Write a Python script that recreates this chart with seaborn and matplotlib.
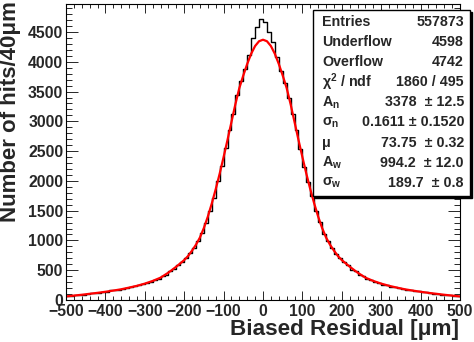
import numpy as np
import pandas as pd
import matplotlib
matplotlib.use("Agg")
import matplotlib.pyplot as plt
import seaborn as sns
from matplotlib.patches import Rectangle
from matplotlib.ticker import MultipleLocator

# ---- data ----
bin_centers = [-495, -485, -475, -465, -455, -445, -435, -425, -415, -405,
               -395, -385, -375, -365, -355, -345, -335, -325, -315, -305,
               -295, -285, -275, -265, -255, -245, -235, -225, -215, -205,
               -195, -185, -175, -165, -155, -145, -135, -125, -115, -105,
               -95, -85, -75, -65, -55, -45, -35, -25, -15, -5,
               5, 15, 25, 35, 45, 55, 65, 75, 85, 95,
               105, 115, 125, 135, 145, 155, 165, 175, 185, 195,
               205, 215, 225, 235, 245, 255, 265, 275, 285, 295,
               305, 315, 325, 335, 345, 355, 365, 375, 385, 395,
               405, 415, 425, 435, 445, 455, 465, 475, 485, 495]
bin_counts = [62, 60, 80, 78, 92, 95, 110, 112, 125, 140,
              138, 160, 168, 175, 190, 205, 215, 230, 250, 262,
              290, 300, 335, 352, 400, 420, 480, 520, 590, 640,
              700, 790, 880, 990, 1120, 1300, 1500, 1720, 1990, 2250,
              2560, 2850, 3130, 3440, 3680, 3880, 4120, 4400, 4580, 4720,
              4660, 4500, 4330, 4080, 3850, 3640, 3400, 3120, 2860, 2530,
              2240, 1980, 1740, 1490, 1310, 1110, 990, 870, 780, 710,
              630, 590, 510, 485, 415, 400, 348, 340, 298, 290,
              260, 250, 225, 222, 200, 192, 172, 165, 150, 148,
              130, 128, 112, 108, 98, 92, 80, 78, 65, 70]

fit_x = [-500, -480, -460, -440, -420, -400, -380, -360, -340, -320, -300,
         -280, -260, -240, -220, -200, -190, -180, -170, -160, -150, -140,
         -130, -120, -110, -100, -90, -80, -70, -60, -50, -40, -30, -20, -10,
         0, 10, 20, 30, 40, 50, 60, 70, 80, 90, 100, 110, 120, 130, 140, 150,
         160, 170, 180, 190, 200, 220, 240, 260, 280, 300, 320, 340, 360, 380,
         400, 420, 440, 460, 480, 500]
fit_y = [60, 74, 88, 104, 120, 138, 158, 180, 208, 238, 275,
         320, 375, 460, 560, 670, 740, 830, 930, 1050, 1210, 1400,
         1620, 1860, 2120, 2400, 2690, 2990, 3290, 3560, 3770, 3965, 4135, 4265, 4345,
         4370, 4345, 4265, 4135, 3965, 3770, 3560, 3290, 2990, 2690, 2400, 2120, 1860, 1620, 1400, 1210,
         1050, 930, 830, 740, 670, 560, 460, 375, 320, 275, 238, 208, 180, 158,
         138, 120, 104, 88, 74, 60]

stat_labels = ["Entries", "Underflow", "Overflow", "χ$^{2}$ / ndf",
               "A$_{n}$", "σ$_{n}$", "μ", "A$_{w}$", "σ$_{w}$"]
stat_values = ["557873", "4598", "4742", "1860 / 495",
               "3378  ± 12.5", "0.1611 ± 0.1520", "73.75  ± 0.32",
               "994.2  ± 12.0", "189.7  ± 0.8"]

x_label = "Biased Residual [μm]"
y_label = "Number of hits/40μm"

# ---- style ----
sns.set_theme(style="ticks")
plt.rcParams["font.family"] = ["Liberation Sans", "DejaVu Sans"]
plt.rcParams["mathtext.default"] = "regular"
plt.rcParams["axes.linewidth"] = 0.8

W, H = 474, 342
fig = plt.figure(figsize=(W / 100, H / 100), dpi=100)
ax = fig.add_axes([66 / W, 1 - 300 / H, (460 - 66) / W, (300 - 4) / H])

df_h = pd.DataFrame({"x": bin_centers, "w": bin_counts})
sns.histplot(data=df_h, x="x", weights="w", binwidth=10, binrange=(-500, 500),
             element="step", fill=False, color="black", linewidth=1.0, ax=ax)

df_f = pd.DataFrame({"x": fit_x, "y": fit_y})
sns.lineplot(data=df_f, x="x", y="y", color="#ff0000", linewidth=1.6, ax=ax)

ax.set_xlim(-500, 500)
ax.set_ylim(0, 4970)
ax.set_xlabel("")
ax.set_ylabel("")

ax.xaxis.set_major_locator(MultipleLocator(100))
ax.xaxis.set_minor_locator(MultipleLocator(20))
ax.yaxis.set_major_locator(MultipleLocator(500))
ax.yaxis.set_minor_locator(MultipleLocator(100))
ax.tick_params(axis="x", which="major", direction="in", length=6.5, width=0.7,
               top=True, bottom=True, labelsize=11.3, pad=3)
ax.tick_params(axis="x", which="minor", direction="in", length=3.2, width=0.7,
               top=True, bottom=True)
ax.tick_params(axis="y", which="major", direction="in", length=8.6, width=0.7,
               left=True, right=True, labelsize=11.3, pad=2)
ax.tick_params(axis="y", which="minor", direction="in", length=4.3, width=0.7,
               left=True, right=True)
for lab in ax.get_xticklabels() + ax.get_yticklabels():
    lab.set_fontweight("bold")
for sp in ax.spines.values():
    sp.set_visible(True)
    sp.set_color("black")

fig.text(459 / W, 1 - 330 / H, x_label, ha="right", va="center",
         fontsize=16.2, fontweight="bold")
fig.text(11 / W, 1 - 1 / H, y_label, ha="center", va="top", rotation=90,
         fontsize=16, fontweight="bold")

# ---- stats box ----
bx0, bx1, by0, by1 = 313, 470, 10, 196
fig.patches.append(Rectangle((bx0 / W + 2 / W, 1 - by1 / H - 2 / H),
                             (bx1 - bx0) / W, (by1 - by0) / H,
                             transform=fig.transFigure, facecolor="black",
                             edgecolor="black", zorder=5))
fig.patches.append(Rectangle((bx0 / W, 1 - by1 / H), (bx1 - bx0) / W,
                             (by1 - by0) / H, transform=fig.transFigure,
                             facecolor="white", edgecolor="black",
                             linewidth=1.0, zorder=6))
for i, (lab, val) in enumerate(zip(stat_labels, stat_values)):
    yy = 1 - (22 + i * 20.1) / H
    fig.text(322 / W, yy, lab, ha="left", va="center", fontsize=10.3,
             fontweight="bold", zorder=7)
    fig.text(464 / W, yy, val, ha="right", va="center", fontsize=10.3,
             fontweight="bold", zorder=7)

fig.savefig("out.png", dpi=100)
